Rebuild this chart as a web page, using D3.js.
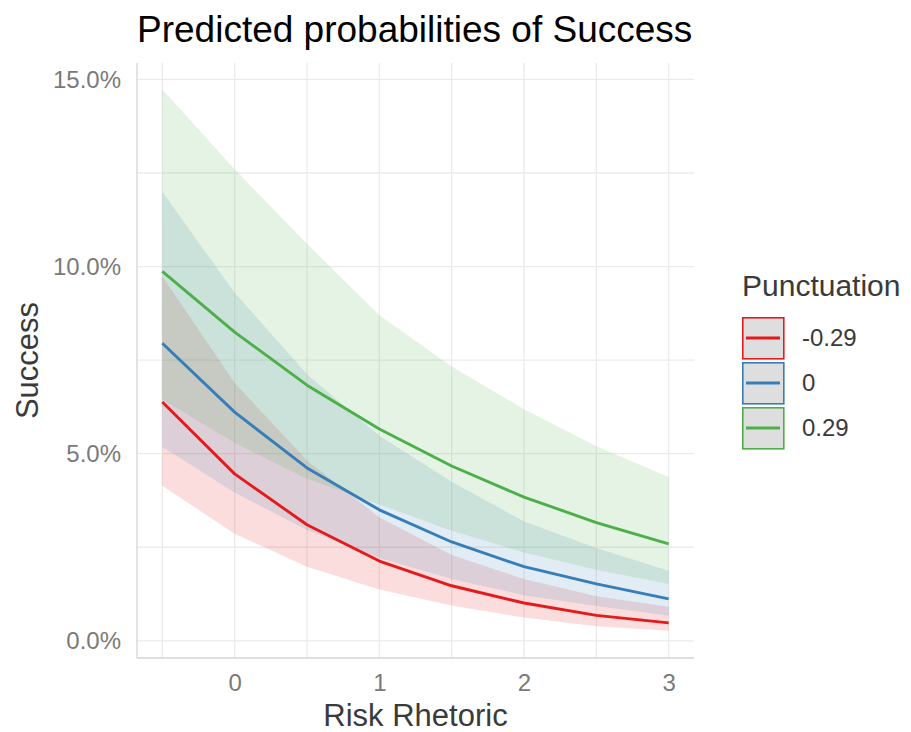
<!DOCTYPE html>
<html>
<head>
<meta charset="utf-8">
<script src="https://cdn.jsdelivr.net/npm/d3@7"></script>
<style>
  html, body { margin: 0; padding: 0; background: #ffffff; }
  svg { display: block; font-family: "Liberation Sans", Arial, sans-serif; }
</style>
</head>
<body>
<svg id="chart" width="911" height="732"></svg>
<script>
// Risk Rhetoric values at which predictions were made
const riskRhetoric = [-0.5, 0, 0.5, 1, 1.5, 2, 2.5, 3];

// Punctuation levels (legend order)
const punctuationLevels = ["-0.29", "0", "0.29"];
const seriesColors = ["#E41A1C", "#377EB8", "#4DAF4A"];

// Predicted probability of Success (%) with confidence bounds
const predLow  = [6.38, 4.46, 3.10, 2.13, 1.47, 1.01, 0.68, 0.48];
const lowerLow = [4.14, 2.86, 1.98, 1.37, 0.94, 0.62, 0.39, 0.27];
const upperLow = [9.74, 6.89, 4.82, 3.30, 2.29, 1.65, 1.19, 0.91];

const predMid  = [7.95, 6.11, 4.62, 3.50, 2.64, 1.98, 1.52, 1.12];
const lowerMid = [5.18, 3.96, 2.96, 2.21, 1.65, 1.22, 0.93, 0.67];
const upperMid = [12.0, 9.30, 7.12, 5.48, 4.25, 3.19, 2.48, 1.87];

const predHigh  = [9.87, 8.25, 6.83, 5.66, 4.67, 3.84, 3.16, 2.59];
const lowerHigh = [6.45, 5.29, 4.33, 3.64, 2.94, 2.36, 1.90, 1.52];
const upperHigh = [14.73, 12.6, 10.6, 8.70, 7.33, 6.19, 5.20, 4.38];

// Axis ticks
const xTicks = [0, 1, 2, 3];
const xTickLabels = ["0", "1", "2", "3"];
const yTicks = [0, 5, 10, 15];
const yTickLabels = ["0.0%", "5.0%", "10.0%", "15.0%"];
const xGrid = [-0.5, 0, 0.5, 1, 1.5, 2, 2.5, 3];
const yGrid = [0, 2.5, 5, 7.5, 10, 12.5, 15];

const series = [
  { level: punctuationLevels[0], color: seriesColors[0], pred: predLow,  lo: lowerLow,  hi: upperLow },
  { level: punctuationLevels[1], color: seriesColors[1], pred: predMid,  lo: lowerMid,  hi: upperMid },
  { level: punctuationLevels[2], color: seriesColors[2], pred: predHigh, lo: lowerHigh, hi: upperHigh }
].map(s => ({
  ...s,
  points: riskRhetoric.map((x, i) => ({ x, y: s.pred[i], lo: s.lo[i], hi: s.hi[i] }))
}));

const svg = d3.select("#chart");

const panel = { left: 137, right: 694, top: 63, bottom: 658 };

const x = d3.scaleLinear().domain([-0.675, 3.175]).range([panel.left, panel.right]);
const y = d3.scaleLinear().domain([-0.46, 15.44]).range([panel.bottom, panel.top]);

// Grid
const grid = svg.append("g");
grid.selectAll("line.gx").data(xGrid).join("line")
  .attr("x1", d => x(d)).attr("x2", d => x(d))
  .attr("y1", panel.top).attr("y2", panel.bottom)
  .attr("stroke", "#ebebeb").attr("stroke-width", 1.3);
grid.selectAll("line.gy").data(yGrid).join("line")
  .attr("x1", panel.left).attr("x2", panel.right)
  .attr("y1", d => y(d)).attr("y2", d => y(d))
  .attr("stroke", "#ebebeb").attr("stroke-width", 1.3);

// Confidence ribbons
const area = d3.area()
  .x(d => x(d.x))
  .y0(d => y(d.lo))
  .y1(d => y(d.hi));

svg.append("g").selectAll("path").data(series).join("path")
  .attr("d", d => area(d.points))
  .attr("fill", d => d.color)
  .attr("fill-opacity", 0.15);

// Prediction lines
const line = d3.line().x(d => x(d.x)).y(d => y(d.y));
svg.append("g").selectAll("path").data(series).join("path")
  .attr("d", d => line(d.points))
  .attr("fill", "none")
  .attr("stroke", d => d.color)
  .attr("stroke-width", 2.9)
  .attr("stroke-linejoin", "round");

// Axis lines
svg.append("line")
  .attr("x1", panel.left).attr("x2", panel.left)
  .attr("y1", panel.top).attr("y2", panel.bottom)
  .attr("stroke", "#d4d4d4").attr("stroke-width", 1.3);
svg.append("line")
  .attr("x1", panel.left).attr("x2", panel.right)
  .attr("y1", panel.bottom).attr("y2", panel.bottom)
  .attr("stroke", "#d4d4d4").attr("stroke-width", 1.3);

// Axes (labels only)
const xAxis = d3.axisBottom(x)
  .tickValues(xTicks)
  .tickFormat((d, i) => xTickLabels[i])
  .tickSize(0)
  .tickPadding(16);
const gx = svg.append("g").attr("transform", `translate(0,${panel.bottom})`).call(xAxis);
gx.select(".domain").remove();
gx.selectAll("text")
  .attr("font-size", 24)
  .attr("font-family", "Liberation Sans, Arial, sans-serif")
  .attr("fill", "#7a7a7a");

const yAxis = d3.axisLeft(y)
  .tickValues(yTicks)
  .tickFormat((d, i) => yTickLabels[i])
  .tickSize(0)
  .tickPadding(16);
const gy = svg.append("g").attr("transform", `translate(${panel.left},0)`).call(yAxis);
gy.select(".domain").remove();
gy.selectAll("text")
  .attr("font-size", 24)
  .attr("font-family", "Liberation Sans, Arial, sans-serif")
  .attr("fill", "#7a7a7a");

// Titles
svg.append("text")
  .attr("x", panel.left).attr("y", 42)
  .attr("font-size", 37)
  .attr("fill", "#000000")
  .text("Predicted probabilities of Success");

svg.append("text")
  .attr("x", (panel.left + panel.right) / 2).attr("y", 726)
  .attr("text-anchor", "middle")
  .attr("font-size", 31)
  .attr("fill", "#3a3a3a")
  .text("Risk Rhetoric");

svg.append("text")
  .attr("transform", `translate(38,${(panel.top + panel.bottom) / 2}) rotate(-90)`)
  .attr("text-anchor", "middle")
  .attr("font-size", 31)
  .attr("fill", "#3a3a3a")
  .text("Success");

// Legend
const legend = svg.append("g").attr("transform", "translate(742,0)");
legend.append("text")
  .attr("x", 0).attr("y", 296)
  .attr("font-size", 30)
  .attr("fill", "#3a3a3a")
  .text("Punctuation");

const keys = legend.selectAll("g.key").data(series).join("g")
  .attr("transform", (d, i) => `translate(0,${317 + i * 45})`);
keys.append("rect")
  .attr("x", 0.8).attr("y", 0.8)
  .attr("width", 41).attr("height", 41)
  .attr("fill", "#dedede")
  .attr("stroke", d => d.color)
  .attr("stroke-width", 1.6);
keys.append("line")
  .attr("x1", 4).attr("x2", 38)
  .attr("y1", 21).attr("y2", 21)
  .attr("stroke", d => d.color)
  .attr("stroke-width", 2.9);
keys.append("text")
  .attr("x", 60).attr("y", 21)
  .attr("dy", "0.35em")
  .attr("font-size", 24)
  .attr("fill", "#3a3a3a")
  .text(d => d.level);
</script>
</body>
</html>
